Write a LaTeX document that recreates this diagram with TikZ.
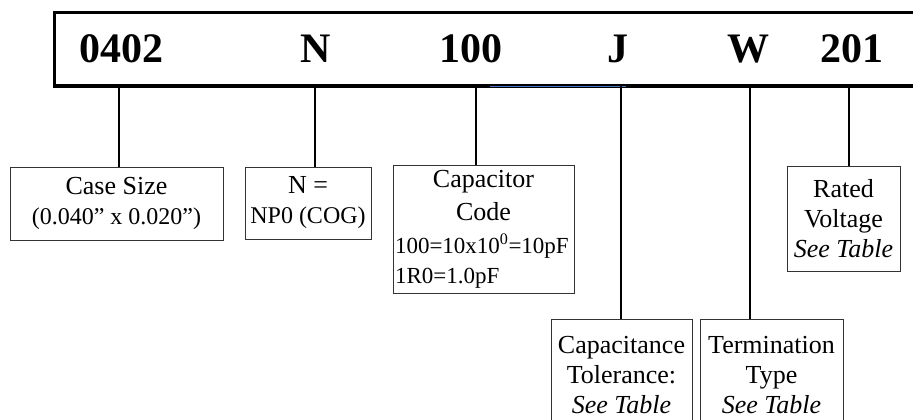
\documentclass[tikz,border=0pt]{standalone}
\usepackage{fontspec}
\setmainfont{Liberation Serif}
\usetikzlibrary{positioning}
\usepackage{xcolor}
\definecolor{wordblue}{RGB}{68,114,196}

\begin{document}
\begin{tikzpicture}[x=1pt,y=-1pt]
      \tikzstyle{code} = [font=\fontsize{42}{48}\selectfont\bfseries, anchor=base, inner sep=0pt]
      \tikzstyle{box} = [rectangle, draw=black!80, line width=1pt, align=center, inner sep=2pt, font=\fontsize{26}{30}\selectfont]
      \tikzstyle{conn} = [line width=2pt]

      \useasboundingbox (0,0) rectangle (913,420);
      \clip (0,0) rectangle (913,420);

      \node[draw, line width=3pt, anchor=north west, minimum width=900pt, minimum height=73pt, inner sep=0pt] (frame) at (52.5,11.5) {};
      \draw[wordblue, line width=1pt] (490,86.5) -- (626,86.5);

      \node[code] (c1) at (121,63) {0402};
      \node[code] (c2) at (316,63) {N};
      \node[code] (c3) at (471,63) {100};
      \node[code] (c4) at (618,63) {J};
      \node[code] (c5) at (748,63) {W};
      \node[code] (c6) at (852,63) {201};

      \coordinate (t1) at (119,85);
      \coordinate (t2) at (315,85);
      \coordinate (t3) at (476,85);
      \coordinate (t4) at (621,85);
      \coordinate (t5) at (750,85);
      \coordinate (t6) at (849,85);

      \node[box, minimum width=213pt, minimum height=73pt] (casebox) at (116.5,203.5) {Case Size\\{\fontsize{24}{27}\selectfont (0.040” x 0.020”)}};
      \node[box, minimum width=126pt, minimum height=72pt] (dielbox) at (308,203) {N =\\{\fontsize{24}{27}\selectfont NP0 (COG)}};
      \node[box, text width=177pt, minimum height=128pt, align=left] (capbox) at (483.5,229) {\fontsize{26}{33}\selectfont\centering Capacitor\\Code\par\vspace{6pt}\raggedright\fontsize{23}{27}\selectfont 100=10x10\textsuperscript{0}=10pF\\1R0=1.0pF};
      \node[box, minimum width=113pt, minimum height=105pt] (voltbox) at (843.5,218.5) {Rated\\Voltage\\\textit{See Table}};
      \node[box, minimum width=141pt, minimum height=112pt, anchor=north] (tolbox) at (621.5,319) {Capacitance\\Tolerance:\\\textit{See Table}};
      \node[box, minimum width=143pt, minimum height=112pt, anchor=north] (termbox) at (771.5,319) {Termination\\Type\\\textit{See Table}};

      \draw[conn] (t1) -- (t1 |- casebox.north);
      \draw[conn] (t2) -- (t2 |- dielbox.north);
      \draw[conn] (t3) -- (t3 |- capbox.north);
      \draw[conn] (t4) -- (t4 |- tolbox.north);
      \draw[conn] (t5) -- (t5 |- termbox.north);
      \draw[conn] (t6) -- (t6 |- voltbox.north);
    \end{tikzpicture}
\end{document}
